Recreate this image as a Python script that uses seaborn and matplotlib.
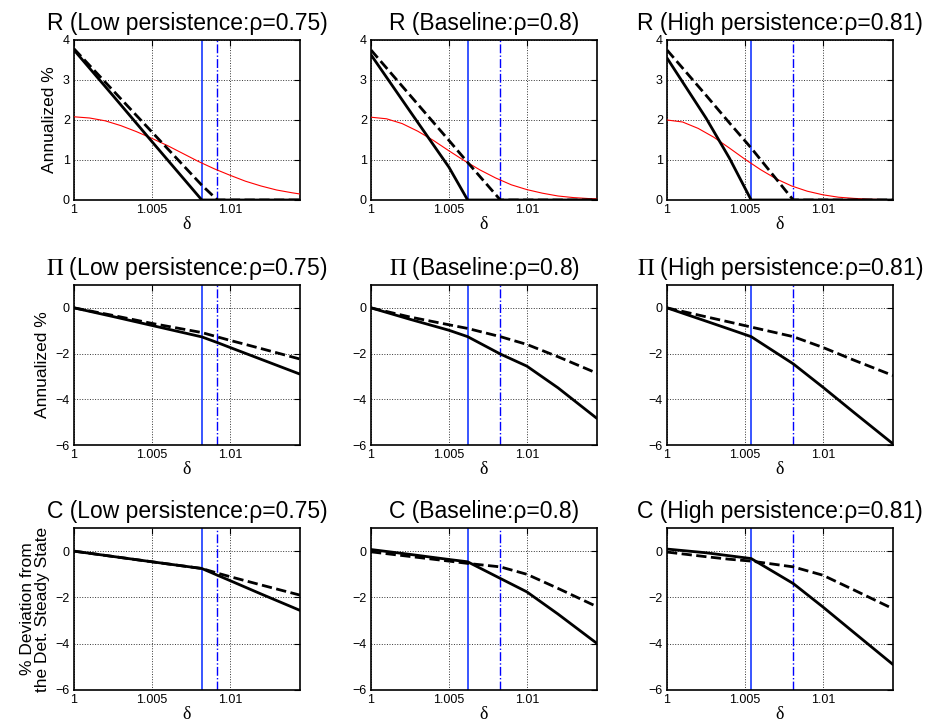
import seaborn as sns
import matplotlib.pyplot as plt

# grille fine pour le taux nominal (courbe rouge)
delta_fine = [1.000, 1.001, 1.002, 1.003, 1.004, 1.005, 1.006, 1.007,
              1.008, 1.009, 1.010, 1.011, 1.012, 1.013, 1.014, 1.0145]
r_red_low = [2.08, 2.05, 1.98, 1.86, 1.71, 1.54, 1.36, 1.16,
             0.96, 0.78, 0.62, 0.47, 0.35, 0.25, 0.18, 0.15]
r_red_base = [2.07, 2.03, 1.91, 1.72, 1.49, 1.23, 0.98, 0.75,
              0.55, 0.38, 0.26, 0.17, 0.10, 0.06, 0.035, 0.03]
r_red_high = [2.00, 1.95, 1.79, 1.57, 1.30, 1.02, 0.76, 0.53,
              0.35, 0.22, 0.13, 0.07, 0.04, 0.02, 0.01, 0.01]

# grilles des courbes noires (une par colonne)
delta_low = [1.000, 1.0025, 1.005, 1.0082, 1.0092, 1.010, 1.012, 1.0145]
delta_base = [1.000, 1.0025, 1.005, 1.0062, 1.0083, 1.010, 1.012, 1.0145]
delta_high = [1.000, 1.0025, 1.004, 1.0054, 1.0081, 1.010, 1.012, 1.0145]

# R
r_solid_low = [3.75, 2.61, 1.46, 0, 0, 0, 0, 0]
r_dash_low = [3.78, 2.74, 1.70, 0.37, 0, 0, 0, 0]
r_solid_base = [3.63, 2.22, 0.82, 0, 0, 0, 0, 0]
r_dash_base = [3.75, 2.62, 1.49, 0.94, 0, 0, 0, 0]
r_solid_high = [3.55, 2.05, 1.05, 0, 0, 0, 0, 0]
r_dash_high = [3.75, 2.62, 1.93, 1.30, 0, 0, 0, 0]

# Pi
pi_solid_low = [0, -0.38, -0.77, -1.27, -1.52, -1.73, -2.25, -2.90]
pi_dash_low = [0, -0.33, -0.68, -1.08, -1.27, -1.42, -1.78, -2.24]
pi_solid_base = [0, -0.50, -0.98, -1.26, -2.02, -2.55, -3.50, -4.84]
pi_dash_base = [0, -0.40, -0.74, -0.90, -1.26, -1.60, -2.14, -2.86]
pi_solid_high = [0, -0.58, -0.93, -1.26, -2.45, -3.47, -4.58, -5.95]
pi_dash_high = [0, -0.39, -0.62, -0.84, -1.26, -1.73, -2.29, -2.96]

# C
c_solid_low = [0, -0.23, -0.46, -0.75, -1.04, -1.27, -1.85, -2.56]
c_dash_low = [0, -0.23, -0.46, -0.75, -0.95, -1.10, -1.46, -1.90]
c_solid_base = [0.07, -0.14, -0.36, -0.46, -1.18, -1.76, -2.72, -3.99]
c_dash_base = [-0.03, -0.23, -0.43, -0.53, -0.68, -1.00, -1.61, -2.40]
c_solid_high = [0.09, -0.07, -0.20, -0.32, -1.40, -2.41, -3.52, -4.90]
c_dash_high = [-0.04, -0.24, -0.35, -0.43, -0.68, -1.04, -1.68, -2.49]

# seuils (lignes bleues verticales)
zlb_solid = [1.0082, 1.0062, 1.0054]
zlb_dashdot = [1.0092, 1.0083, 1.0081]

col_names = ["Low persistence:ρ=0.75", "Baseline:ρ=0.8", "High persistence:ρ=0.81"]
row_vars = ["R", r"$\Pi$", "C"]
x_ticks = [1, 1.005, 1.01]
x_ticklabels = ["1", "1.005", "1.01"]

deltas = [delta_low, delta_base, delta_high]
red = [r_red_low, r_red_base, r_red_high]
solid = [[r_solid_low, r_solid_base, r_solid_high],
         [pi_solid_low, pi_solid_base, pi_solid_high],
         [c_solid_low, c_solid_base, c_solid_high]]
dashed = [[r_dash_low, r_dash_base, r_dash_high],
          [pi_dash_low, pi_dash_base, pi_dash_high],
          [c_dash_low, c_dash_base, c_dash_high]]

sns.set_style("white")
plt.rcParams["font.family"] = ["Liberation Sans", "DejaVu Sans"]
plt.rcParams["mathtext.fontset"] = "stix"
plt.rcParams["text.color"] = "black"
plt.rcParams["axes.labelcolor"] = "black"
plt.rcParams["xtick.color"] = "black"
plt.rcParams["ytick.color"] = "black"

fig = plt.figure(figsize=(9.32, 7.25), dpi=100)

lefts = [74, 371, 667]
tops = [40, 285, 528]
heights = [160, 160, 162]
W, H = 932, 725

for i in range(3):
    for j in range(3):
        ax = fig.add_axes([lefts[j] / W, 1 - (tops[i] + heights[i]) / H,
                           226 / W, heights[i] / H])
        ax.axvline(zlb_solid[j], color="#2a48ff", lw=1.3, zorder=2)
        ax.axvline(zlb_dashdot[j], color="blue", lw=1.0, ls="-.", zorder=2)
        if i == 0:
            sns.lineplot(x=delta_fine, y=red[j], ax=ax, color="red", lw=0.8, zorder=3)
        sns.lineplot(x=deltas[j], y=dashed[i][j], ax=ax, color="black",
                     lw=2, linestyle="--", sort=False, zorder=4)
        sns.lineplot(x=deltas[j], y=solid[i][j], ax=ax, color="black",
                     lw=2, sort=False, zorder=4)

        ax.set_xlim(1, 1.0145)
        if i == 0:
            ax.set_ylim(0, 4)
            ax.set_yticks([0, 1, 2, 3, 4])
        else:
            ax.set_ylim(-6, 1)
            ax.set_yticks([-6, -4, -2, 0])
        ax.set_yticklabels([str(t).replace("-", "\u2212") for t in ax.get_yticks().astype(int)])
        ax.set_xticks(x_ticks)
        ax.set_xticklabels(x_ticklabels)
        ax.grid(True, ls=":", color="0.2", lw=0.7)
        ax.tick_params(direction="in", top=True, right=True, length=4,
                       width=0.8, labelsize=9, pad=3)
        for s in ax.spines.values():
            s.set_linewidth(1.2)
            s.set_color("black")

        ax.set_title(f"{row_vars[i]} ({col_names[j]})", fontsize=16.5, pad=7)
        ax.set_xlabel("δ", fontsize=13, family="Liberation Serif", labelpad=0)
        if j == 0:
            if i < 2:
                ax.set_ylabel("Annualized %", fontsize=12.5, labelpad=4)
            else:
                ax.set_ylabel("% Deviation from\nthe Det. Steady State",
                              fontsize=12.5, labelpad=4, linespacing=1.0)
        else:
            ax.set_ylabel("")

plt.savefig("out.png", dpi=100)
